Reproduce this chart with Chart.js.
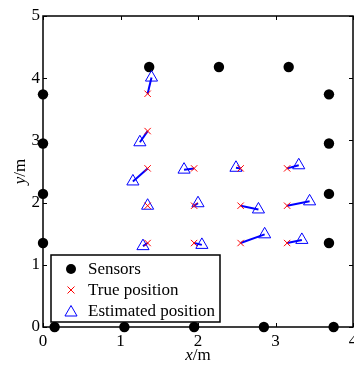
<!DOCTYPE html>
<html><head><meta charset="utf-8">
<script src="https://cdn.jsdelivr.net/npm/chart.js@4/dist/chart.umd.min.js"></script>
<style>html,body{margin:0;padding:0;background:#fff;}canvas{display:block;}</style>
</head><body>
<canvas id="c" width="354" height="367"></canvas>
<script>
// ---- data ----
const sensorX = [0, 0, 0, 0, 0.15, 1.05, 1.95, 2.85, 3.75, 3.69, 3.69, 3.69, 3.69, 1.37, 2.27, 3.17];
const sensorY = [1.35, 2.14, 2.95, 3.74, 0, 0, 0, 0, 0, 1.35, 2.14, 2.95, 3.74, 4.18, 4.18, 4.18];
const trueX = [1.35, 1.35, 1.35, 1.35, 1.35, 1.95, 1.95, 1.95, 2.55, 2.55, 2.55, 3.15, 3.15, 3.15];
const trueY = [1.35, 1.95, 2.55, 3.15, 3.75, 1.35, 1.95, 2.55, 1.35, 1.95, 2.55, 1.35, 1.95, 2.55];
const estX = [1.29, 1.35, 1.16, 1.25, 1.40, 2.05, 2.00, 1.82, 2.86, 2.78, 2.49, 3.34, 3.44, 3.30];
const estY = [1.30, 1.95, 2.34, 2.97, 4.01, 1.32, 1.99, 2.53, 1.49, 1.89, 2.56, 1.40, 2.02, 2.60];
const xTicks = [0, 1, 2, 3, 4];
const yTicks = [0, 1, 2, 3, 4, 5];
const legendLabels = ['Sensors', 'True position', 'Estimated position'];

const pts = (xs, ys) => xs.map((v, i) => ({x: v, y: ys[i]}));
const linkSets = trueX.map((v, i) => ({
  label: 'link' + i, type: 'line',
  data: [{x: v, y: trueY[i]}, {x: estX[i], y: estY[i]}],
  showLine: true, pointRadius: 0, borderColor: '#0000ff', borderWidth: 2,
  order: 2, fill: false, clip: false
}));

const FONT = '"Liberation Serif", "Times New Roman", serif';

const framePlugin = {
  id: 'frame',
  beforeDatasetsDraw(chart) {
    const {ctx, chartArea: a, scales: {x, y}} = chart;
    ctx.save();
    ctx.strokeStyle = '#000';
    ctx.lineWidth = 1.5;
    ctx.strokeRect(a.left, a.top, a.right - a.left, a.bottom - a.top);
    ctx.lineWidth = 1;
    ctx.beginPath();
    xTicks.forEach(t => {
      const p = Math.round(x.getPixelForValue(t)) + 0.5;
      ctx.moveTo(p, a.bottom); ctx.lineTo(p, a.bottom - 4);
      ctx.moveTo(p, a.top); ctx.lineTo(p, a.top + 4);
    });
    yTicks.forEach(t => {
      const p = Math.round(y.getPixelForValue(t)) + 0.5;
      ctx.moveTo(a.left, p); ctx.lineTo(a.left + 4, p);
      ctx.moveTo(a.right, p); ctx.lineTo(a.right - 4, p);
    });
    ctx.stroke();
    ctx.restore();
  },
  afterDraw(chart) {
    const {ctx, chartArea: a} = chart;
    ctx.save();
    ctx.fillStyle = '#000';
    ctx.textBaseline = 'middle';
    const drawTitle = (letter, cx, cy, rot) => {
      ctx.save();
      ctx.translate(cx, cy);
      ctx.rotate(rot);
      ctx.font = 'italic 17px ' + FONT;
      const w1 = ctx.measureText(letter).width;
      ctx.font = '17px ' + FONT;
      const w2 = ctx.measureText('/m').width;
      const start = -(w1 + w2) / 2;
      ctx.textAlign = 'left';
      ctx.font = 'italic 17px ' + FONT;
      ctx.fillText(letter, start, 0);
      ctx.font = '17px ' + FONT;
      ctx.fillText('/m', start + w1, 0);
      ctx.restore();
    };
    drawTitle('x', (a.left + a.right) / 2, 356, 0);
    drawTitle('y', 21, (a.top + a.bottom) / 2, -Math.PI / 2);

    // legend
    const L = 51, T = 255, R = 220, B = 322;
    ctx.fillStyle = '#fff';
    ctx.fillRect(L, T, R - L, B - T);
    ctx.strokeStyle = '#000';
    ctx.lineWidth = 1.5;
    ctx.strokeRect(L, T, R - L, B - T);
    const mx = 71, tx = 88, rows = [269, 290, 311];
    ctx.fillStyle = '#000';
    ctx.beginPath(); ctx.arc(mx, rows[0], 5, 0, Math.PI * 2); ctx.fill();
    ctx.strokeStyle = '#ff0000'; ctx.lineWidth = 1;
    ctx.beginPath();
    ctx.moveTo(mx - 3.5, rows[1] - 3.5); ctx.lineTo(mx + 3.5, rows[1] + 3.5);
    ctx.moveTo(mx + 3.5, rows[1] - 3.5); ctx.lineTo(mx - 3.5, rows[1] + 3.5);
    ctx.stroke();
    ctx.strokeStyle = '#0000ff'; ctx.lineWidth = 1;
    const r = 7, ty = rows[2] + 1.5;
    ctx.beginPath();
    ctx.moveTo(mx, ty - r);
    ctx.lineTo(mx + r * Math.cos(Math.PI / 6), ty + r / 2);
    ctx.lineTo(mx - r * Math.cos(Math.PI / 6), ty + r / 2);
    ctx.closePath(); ctx.stroke();
    ctx.fillStyle = '#000';
    ctx.font = '17px ' + FONT;
    ctx.textAlign = 'left';
    ctx.textBaseline = 'middle';
    legendLabels.forEach((t, i) => ctx.fillText(t, tx, rows[i] + 1));
    ctx.restore();
  }
};

new Chart(document.getElementById('c'), {
  type: 'scatter',
  data: {
    datasets: [
      {label: legendLabels[0], data: pts(sensorX, sensorY), pointStyle: 'circle', pointRadius: 5.2,
       backgroundColor: '#000', borderColor: '#000', borderWidth: 0, order: 4, clip: false},
      {label: legendLabels[1], data: pts(trueX, trueY), pointStyle: 'crossRot', pointRadius: 4.5,
       borderColor: '#ff0000', backgroundColor: '#ff0000', borderWidth: 1, order: 1, clip: false},
      {label: legendLabels[2], data: pts(estX, estY), pointStyle: 'triangle', pointRadius: 7,
       borderColor: '#0000ff', backgroundColor: 'rgba(0,0,0,0)', borderWidth: 1, order: 3, clip: false}
    ].concat(linkSets)
  },
  options: {
    responsive: false,
    animation: false,
    devicePixelRatio: 1,
    layout: {padding: {top: 16, right: 1, left: 0, bottom: 0}, autoPadding: false},
    plugins: {legend: {display: false}, tooltip: {enabled: false}},
    scales: {
      x: {
        type: 'linear', min: 0, max: 4,
        afterFit: s => { s.height = 40; s.paddingLeft = 0; s.paddingRight = 0; },
        afterBuildTicks: s => { s.ticks = xTicks.map(v => ({value: v})); },
        grid: {display: false, drawTicks: false},
        border: {display: false},
        ticks: {color: '#000', font: {family: FONT, size: 17}, padding: 4, maxRotation: 0}
      },
      y: {
        type: 'linear', min: 0, max: 5,
        afterFit: s => { s.width = 43; s.paddingTop = 0; s.paddingBottom = 0; },
        afterBuildTicks: s => { s.ticks = yTicks.map(v => ({value: v})); },
        grid: {display: false, drawTicks: false},
        border: {display: false},
        ticks: {color: '#000', font: {family: FONT, size: 17}, padding: 3}
      }
    }
  },
  plugins: [framePlugin]
});
</script>
</body></html>
